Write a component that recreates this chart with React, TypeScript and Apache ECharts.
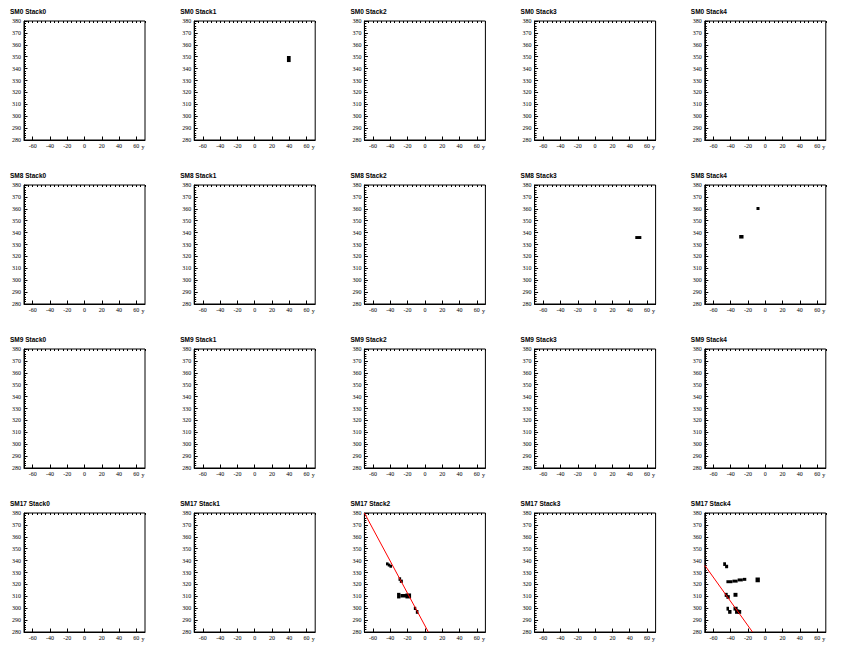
import React, { useEffect, useRef } from "react";
import * as echarts from "echarts";

// Layout of the canvas: 4 super-modules x 5 stacks
const modules = ["SM0", "SM8", "SM9", "SM17"];
const stacks = ["Stack0", "Stack1", "Stack2", "Stack3", "Stack4"];

// Axis ranges and tick positions
const xRange = [-70, 70];
const yRange = [280, 380];
const xMajorTicks = [-60, -40, -20, 0, 20, 40, 60];
const xMinorStep = 5;
const yMajorStep = 10;

// Hit clusters per panel: [xMin, xMax, yMin, yMax]
const hitsSM0Stack1 = [[37.3, 41.6, 345.5, 350.6]];
const hitsSM8Stack3 = [[46.5, 53.5, 334.6, 337.1]];
const hitsSM8Stack4 = [
  [-10.2, -6.7, 359.0, 361.5],
  [-30.2, -25.2, 335.0, 338.0],
];
const hitsSM17Stack2 = [
  [-45.0, -42.0, 336.0, 338.5],
  [-43.0, -40.0, 335.0, 337.5],
  [-41.0, -38.0, 334.0, 336.5],
  [-30.5, -27.5, 323.0, 326.0],
  [-29.0, -25.5, 321.3, 324.0],
  [-32.2, -28.3, 308.2, 312.9],
  [-28.3, -21.7, 309.0, 312.0],
  [-22.5, -16.0, 308.2, 312.4],
  [-12.8, -10.0, 298.5, 301.2],
  [-10.5, -7.5, 295.3, 298.5],
];
const hitsSM17Stack4 = [
  [-48.7, -45.5, 335.5, 338.6],
  [-46.5, -43.0, 333.6, 336.5],
  [-45.0, -38.0, 321.0, 323.5],
  [-38.0, -32.0, 321.5, 324.0],
  [-32.0, -26.0, 322.5, 325.0],
  [-26.0, -22.0, 323.0, 325.5],
  [-11.3, -6.3, 321.8, 325.8],
  [-47.0, -43.5, 309.5, 312.9],
  [-45.0, -41.1, 307.9, 311.0],
  [-36.8, -32.2, 309.6, 312.9],
  [-44.9, -42.0, 298.0, 301.2],
  [-43.0, -39.1, 295.3, 298.5],
  [-36.8, -32.0, 298.0, 301.2],
  [-35.0, -30.0, 295.3, 299.0],
  [-32.0, -27.9, 295.3, 298.5],
];

// Fitted tracks: [y-position, x-position] endpoints as (y, x) points
const trackSM17Stack2 = [
  [-70, 380],
  [4, 280],
];
const trackSM17Stack4 = [
  [-70, 336],
  [-14.8, 280],
];

const panelHits: Record<string, number[][]> = {
  "SM0 Stack1": hitsSM0Stack1,
  "SM8 Stack3": hitsSM8Stack3,
  "SM8 Stack4": hitsSM8Stack4,
  "SM17 Stack2": hitsSM17Stack2,
  "SM17 Stack4": hitsSM17Stack4,
};
const panelTracks: Record<string, number[][]> = {
  "SM17 Stack2": trackSM17Stack2,
  "SM17 Stack4": trackSM17Stack4,
};

const PANEL_W = 170.2;
const PANEL_H = 164;
const FRAME_L = 24;
const FRAME_T = 21;
const FRAME_W = 121;
const FRAME_H = 119;
const LABEL_FONT = "'Liberation Serif', 'Times New Roman', serif";
const TITLE_FONT = "'Liberation Sans', Arial, sans-serif";

function buildOption() {
  const grid: any[] = [];
  const xAxis: any[] = [];
  const yAxis: any[] = [];
  const title: any[] = [];
  const graphic: any[] = [];
  const series: any[] = [];

  modules.forEach((sm, r) => {
    stacks.forEach((st, c) => {
      const i = r * stacks.length + c;
      const name = `${sm} ${st}`;
      const left = FRAME_L + c * PANEL_W;
      const top = FRAME_T + r * PANEL_H;

      grid.push({
        left,
        top,
        width: FRAME_W,
        height: FRAME_H,
        show: true,
        borderColor: "#000",
        borderWidth: 1,
        backgroundColor: "transparent",
      });

      // major x ticks and labels
      xAxis.push({
        gridIndex: i,
        type: "value",
        min: xRange[0],
        max: xRange[1],
        axisLine: { show: true, onZero: false, lineStyle: { color: "#000", width: 1 } },
        axisTick: {
          show: true,
          inside: true,
          length: 3.5,
          customValues: xMajorTicks,
          lineStyle: { color: "#000", width: 1 },
        },
        axisLabel: {
          customValues: xMajorTicks,
          fontFamily: LABEL_FONT,
          fontSize: 6,
          color: "#000",
          margin: 3,
        },
        splitLine: { show: false },
      });
      // minor x ticks
      xAxis.push({
        gridIndex: i,
        type: "value",
        min: xRange[0],
        max: xRange[1],
        interval: xMinorStep,
        axisLine: { show: false, onZero: false },
        axisTick: { show: true, inside: true, length: 2, lineStyle: { color: "#000", width: 1 } },
        axisLabel: { show: false },
        splitLine: { show: false },
      });

      yAxis.push({
        gridIndex: i,
        type: "value",
        min: yRange[0],
        max: yRange[1],
        interval: yMajorStep,
        axisLine: { show: true, onZero: false, lineStyle: { color: "#000", width: 1 } },
        axisTick: { show: true, inside: true, length: 3.5, lineStyle: { color: "#000", width: 1 } },
        minorTick: { show: true, splitNumber: 5, length: 2, lineStyle: { color: "#000", width: 1 } },
        axisLabel: {
          fontFamily: LABEL_FONT,
          fontSize: 6,
          color: "#000",
          margin: 3,
          showMinLabel: true,
          showMaxLabel: true,
        },
        splitLine: { show: false },
        minorSplitLine: { show: false },
      });

      title.push({
        text: name,
        left: 10 + c * PANEL_W,
        top: 8 + r * PANEL_H,
        padding: 0,
        textStyle: {
          fontFamily: TITLE_FONT,
          fontWeight: "bold",
          fontSize: 6.5,
          color: "#000",
        },
      });

      graphic.push({
        type: "text",
        x: left + FRAME_W - 2,
        y: top + FRAME_H + 7,
        style: {
          text: "y",
          font: `6px ${LABEL_FONT}`,
          fill: "#000",
          textAlign: "center",
          textVerticalAlign: "middle",
        },
      });

      const hits = panelHits[name];
      if (hits) {
        series.push({
          type: "custom",
          name: `${name} hits`,
          xAxisIndex: 2 * i,
          yAxisIndex: i,
          data: hits,
          encode: { x: [0, 1], y: [2, 3] },
          clip: true,
          renderItem: (_params: any, api: any) => {
            const p0 = api.coord([api.value(0), api.value(3)]);
            const p1 = api.coord([api.value(1), api.value(2)]);
            return {
              type: "rect",
              shape: { x: p0[0], y: p0[1], width: p1[0] - p0[0], height: p1[1] - p0[1] },
              style: { fill: "#000" },
            };
          },
        });
      }

      const track = panelTracks[name];
      if (track) {
        series.push({
          type: "line",
          name: `${name} track`,
          xAxisIndex: 2 * i,
          yAxisIndex: i,
          data: track,
          showSymbol: false,
          symbol: "none",
          lineStyle: { color: "#ff0000", width: 1 },
          z: 5,
        });
      }
    });
  });

  return {
    animation: false,
    backgroundColor: "#fff",
    grid,
    xAxis,
    yAxis,
    title,
    graphic,
    series,
  };
}

export default function App() {
  const ref = useRef<HTMLDivElement>(null);
  useEffect(() => {
    if (!ref.current) return;
    const chart = echarts.init(ref.current, undefined, { renderer: "svg" });
    chart.setOption(buildOption() as any);
    return () => chart.dispose();
  }, []);
  return (
    <div
      ref={ref}
      style={{ position: "fixed", left: 0, top: 0, width: 851, height: 656, background: "#fff" }}
    />
  );
}
